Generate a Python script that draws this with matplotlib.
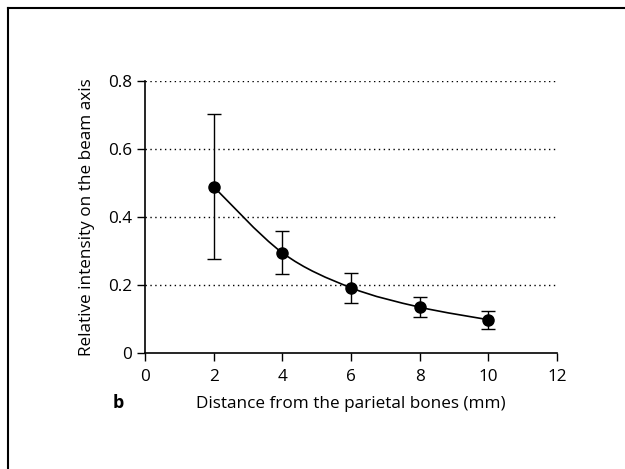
import matplotlib.pyplot as plt
import numpy as np
from matplotlib.path import Path
from matplotlib.patches import PathPatch
from matplotlib.lines import Line2D

plt.rcParams['font.family'] = ['Open Sans', 'DejaVu Sans']

# Data
distance = np.array([2, 4, 6, 8, 10])
intensity = np.array([0.488, 0.294, 0.191, 0.134, 0.097])
err_upper = np.array([0.702, 0.357, 0.233, 0.163, 0.124])
err_lower = np.array([0.276, 0.231, 0.146, 0.106, 0.070])

x_ticks = [0, 2, 4, 6, 8, 10, 12]
y_ticks = [0, 0.2, 0.4, 0.6, 0.8]
y_tick_labels = ['0', '0.2', '0.4', '0.6', '0.8']

fig = plt.figure(figsize=(6.25, 4.69), dpi=100)
ax = fig.add_axes([0.232, 0.248, 0.659, 0.58])

# Dotted horizontal guide lines
for yv in y_ticks[1:]:
    ax.axhline(yv, color='black', linestyle=(0, (1, 2.5)), linewidth=1.0, zorder=1)

# Smooth curve through the points (Catmull-Rom as cubic Bezier)
verts = [(distance[0], intensity[0])]
codes = [Path.MOVETO]
n = len(distance)
for i in range(n - 1):
    p0 = np.array([distance[max(i - 1, 0)], intensity[max(i - 1, 0)]])
    p1 = np.array([distance[i], intensity[i]])
    p2 = np.array([distance[i + 1], intensity[i + 1]])
    p3 = np.array([distance[min(i + 2, n - 1)], intensity[min(i + 2, n - 1)]])
    c1 = p1 + (p2 - p0) / 6
    c2 = p2 - (p3 - p1) / 6
    verts += [tuple(c1), tuple(c2), tuple(p2)]
    codes += [Path.CURVE4] * 3
ax.add_patch(PathPatch(Path(verts, codes), facecolor='none', edgecolor='black', linewidth=1.2, zorder=2))

# Error bars and markers
yerr = np.vstack([intensity - err_lower, err_upper - intensity])
ax.errorbar(distance, intensity, yerr=yerr, fmt='o', color='black', markersize=8,
            ecolor='black', elinewidth=1.0, capsize=5, capthick=1.0, zorder=3)

ax.set_xlim(0, 12)
ax.set_ylim(0, 0.8)
ax.set_xticks(x_ticks)
ax.set_yticks(y_ticks)
ax.set_yticklabels(y_tick_labels)
ax.spines['top'].set_visible(False)
ax.spines['right'].set_visible(False)
ax.spines['left'].set_linewidth(1.2)
ax.spines['bottom'].set_linewidth(1.2)
ax.tick_params(direction='out', length=6, width=1.0, labelsize=12.3)
ax.tick_params(axis='x', pad=6)
ax.tick_params(axis='y', pad=3.5)

ax.set_xlabel('Distance from the parietal bones (mm)', fontsize=12.3, labelpad=8)
ax.set_ylabel('Relative intensity on the beam axis', fontsize=12.3, labelpad=9)

fig.text(0.19, 0.141, 'b', fontsize=13, fontweight='bold', ha='center', va='center')

# Outer frame lines (left and top)
fig.add_artist(Line2D([0.013, 0.013], [0, 0.983], color='black', linewidth=1.5, transform=fig.transFigure))
fig.add_artist(Line2D([0.013, 1.0], [0.983, 0.983], color='black', linewidth=1.5, transform=fig.transFigure))

fig.savefig('out.png', dpi=100)
